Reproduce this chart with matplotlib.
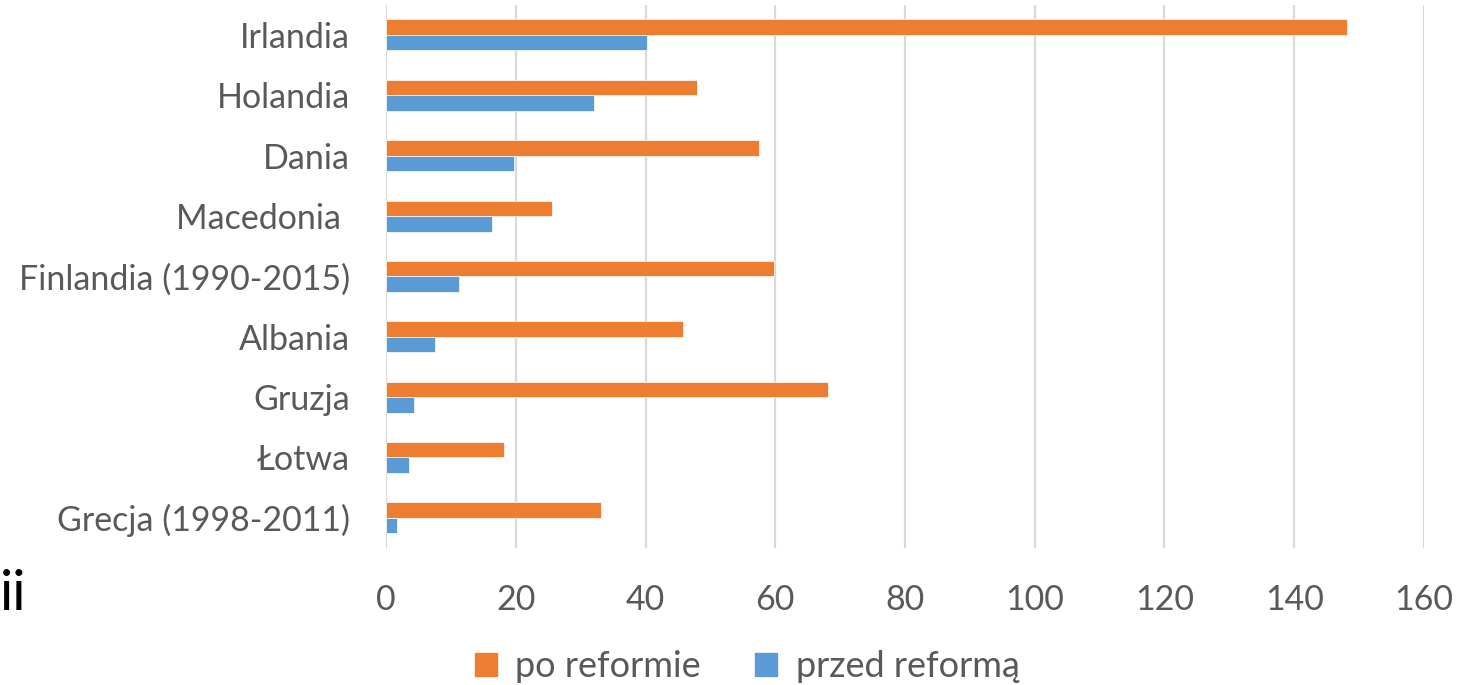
import matplotlib.pyplot as plt
import numpy as np
from matplotlib.patches import Patch

# Country labels (top to bottom as shown) and values
countries = ["Irlandia", "Holandia", "Dania", "Macedonia ", "Finlandia (1990-2015)",
             "Albania", "Gruzja", "Łotwa", "Grecja (1998-2011)"]
po_reformie = [148.1, 47.9, 57.5, 25.6, 59.8, 45.8, 68.1, 18.2, 33.1]
przed_reforma = [40.2, 32.1, 19.7, 16.3, 11.3, 7.6, 4.3, 3.5, 1.7]
x_ticks = [0, 20, 40, 60, 80, 100, 120, 140, 160]

orange = "#ED7D31"
blue = "#5B9BD5"
text_color = "#595959"

plt.rcParams["font.family"] = ["Lato", "DejaVu Sans"]

figure = plt.figure(figsize=(14.65, 6.85), dpi=100)
axes = figure.add_axes([0.2635, 0.2, 0.7085, 0.793])

pos = np.arange(len(countries))[::-1]
h = 0.257
axes.barh(pos + h / 2, po_reformie, height=h, color=orange, edgecolor="white", linewidth=0.5, zorder=3)
axes.barh(pos - h / 2, przed_reforma, height=h, color=blue, edgecolor="white", linewidth=0.5, zorder=3)

axes.set_xlim(0, 160)
axes.set_ylim(-0.5, len(countries) - 0.5)
axes.set_xticks(x_ticks)
axes.set_yticks(pos)
axes.set_yticklabels(countries)
axes.tick_params(axis="both", length=0, labelsize=24.5, labelcolor=text_color)
axes.tick_params(axis="y", pad=26)
axes.tick_params(axis="x", pad=26)

axes.grid(axis="x", color="#d9d9d9", linewidth=1.6, zorder=0)
for s in axes.spines.values():
    s.set_visible(False)

handles = [Patch(color=orange, label="po reformie"), Patch(color=blue, label="przed reformą")]
figure.legend(handles=handles, loc="lower center", bbox_to_anchor=(0.51, -0.045), ncol=2,
              frameon=False, fontsize=26, labelcolor=text_color, handlelength=0.62,
              handleheight=0.62, handletextpad=0.5, columnspacing=1.5)

figure.text(0.0, 0.11, "ii", fontsize=40, color="black")

figure.savefig("out.png", dpi=100)
